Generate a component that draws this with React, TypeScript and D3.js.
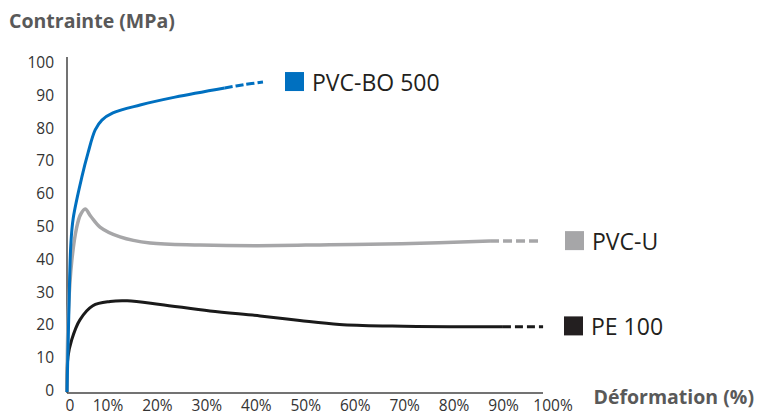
import React from "react";
import * as d3 from "d3";

const yTicks = [0, 10, 20, 30, 40, 50, 60, 70, 80, 90, 100];
const xTicks = [0, 10, 20, 30, 40, 50, 60, 70, 80, 90, 100];
const xTickLabels = ["0", "10%", "20%", "30%", "40%", "50%", "60%", "70%", "80%", "90%", "100%"];

const seriesNames = ["PE 100", "PVC-U", "PVC-BO 500"];
const seriesColors = ["#1a1a1a", "#a6a6a8", "#0070c0"];

const peSolid: [number, number][] = [
  [0, 0], [0.2, 10.7], [1, 16], [2.7, 22], [5.4, 26.3], [9, 27.6], [12.6, 27.8],
  [19.5, 26.7], [29.9, 24.7], [40.4, 23.2], [48.7, 21.8], [57, 20.6], [68, 20.1],
  [80, 19.9], [91.2, 19.9],
];
const peDash: [number, number][] = [[91.2, 19.9], [99.6, 19.9]];

const pvcuSolid: [number, number][] = [
  [0, 0], [0.3, 25], [1, 40], [2, 50], [2.8, 54], [3.8, 55.8], [5, 53.5], [6.9, 50.3],
  [11.1, 47.3], [17.4, 45.4], [27.8, 44.8], [40, 44.6], [55, 44.9], [70, 45.2], [88.5, 46],
];
const pvcuDash: [number, number][] = [[88.5, 46], [98.7, 46]];

const pvcboSolid: [number, number][] = [
  [0, 0], [0.4, 25], [0.8, 45], [1.3, 53], [3.1, 65.5], [4.4, 72.9], [5.9, 79.9],
  [7.3, 82.9], [9.6, 85.1], [15.3, 87.5], [22.6, 89.9], [33, 92.7],
];
const pvcboDash: [number, number][] = [[33, 92.7], [37, 93.7], [41, 94.5]];

const legendValues = [20, 46, 94.5];

export default function App() {
  const W = 757;
  const H = 412;
  const x = d3.scaleLinear().domain([0, 100]).range([67, 545]);
  const xLab = d3.scaleLinear().domain([0, 100]).range([58.5, 553]);
  const y = d3.scaleLinear().domain([0, 100]).range([392, 64]);
  const line = d3
    .line<[number, number]>()
    .x((d) => x(d[0]))
    .y((d) => y(d[1]))
    .curve(d3.curveCatmullRom.alpha(0.5));

  const font = "'Open Sans', sans-serif";
  const solids = [peSolid, pvcuSolid, pvcboSolid];
  const dashes = [peDash, pvcuDash, pvcboDash];
  const dashArr = ["8 4", "9 4", "8 3"];
  const widths = [3, 3.5, 3];
  const legendX = [564, 565, 285];

  return (
    <svg width={W} height={H} style={{ position: "absolute", left: 0, top: 0 }}>
      <rect width={W} height={H} fill="#fff" />
      <text x={9} y={28} fontFamily={font} fontWeight={700} fontSize={19.5} fill="#595959">
        Contrainte (MPa)
      </text>
      <text x={754} y={404} textAnchor="end" fontFamily={font} fontWeight={700} fontSize={19.5} fill="#595959">
        Déformation (%)
      </text>
      {yTicks.map((v) => (
        <text key={v} x={54} y={y(v) - 2} textAnchor="end" dominantBaseline="central" fontFamily={font} fontSize={15.5} fill="#333">
          {v}
        </text>
      ))}
      {xTicks.map((v, i) => (
        <text key={v} x={v === 0 ? 70 : xLab(v)} y={410.5} textAnchor="middle" fontFamily={font} fontSize={15.5} fill="#333">
          {xTickLabels[i]}
        </text>
      ))}
      <line x1={67} x2={67} y1={57} y2={393} stroke="#444" strokeWidth={1.5} />
      <line x1={67} x2={543} y1={393} y2={393} stroke="#444" strokeWidth={1.5} />
      {solids.map((s, i) => (
        <g key={i}>
          <path d={line(s) || ""} fill="none" stroke={seriesColors[i]} strokeWidth={widths[i]} strokeLinecap="butt" />
          <path d={line(dashes[i]) || ""} fill="none" stroke={seriesColors[i]} strokeWidth={widths[i]} strokeDasharray={dashArr[i]} />
        </g>
      ))}
      {seriesNames.map((n, i) => (
        <g key={n}>
          <rect x={legendX[i]} y={y(legendValues[i]) - 10} width={19} height={19} fill={seriesColors[i] === "#1a1a1a" ? "#231f20" : seriesColors[i]} />
          <text x={legendX[i] + 27} y={y(legendValues[i]) + 9} fontFamily={font} fontSize={23} fill="#231f20">
            {n}
          </text>
        </g>
      ))}
    </svg>
  );
}
